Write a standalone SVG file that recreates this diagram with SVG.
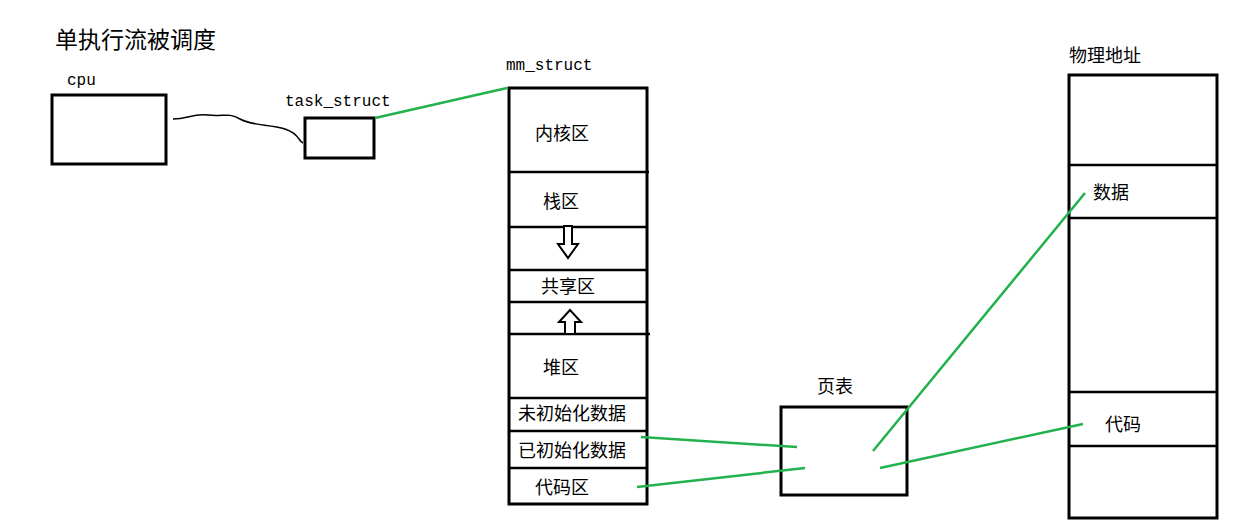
<svg xmlns="http://www.w3.org/2000/svg" width="1235" height="524" viewBox="0 0 1235 524">
<style>
.b{fill:#fff;stroke:#000;stroke-width:3}
.l{stroke:#000;stroke-width:2.5}
.g{stroke:#22b14c;stroke-width:2.5;fill:none}
.t{font-family:"Noto Sans CJK SC","Noto Sans",sans-serif;font-size:18px;fill:#000}
.m{font-family:"Liberation Mono",monospace;font-size:16px;fill:#000}
</style>
<rect width="1235" height="524" fill="#fff"/>
<text class="t" x="55" y="48" style="font-size:23px">单执行流被调度</text>
<g id="cpu"><rect class="b" x="52" y="95" width="114" height="69"/><text class="m" x="67" y="85">cpu</text></g>
<g id="task_struct"><rect class="b" x="305" y="118" width="69" height="40" stroke-width="4"/><text class="m" x="285" y="106" fill="#1a3a8a">task_struct</text></g>
<g id="mm_struct">
<text class="m" x="506" y="70">mm_struct</text>
<rect class="b" x="509" y="88" width="138" height="416"/>
<path class="l" d="M509 172H649M509 227H647M509 270H647M509 302H647M509 334H650M509 398H647M509 431H647M509 468H647"/>
<path d="M564 226h8v18h6l-10 14-10-14h6z" fill="#fff" stroke="#000" stroke-width="2"/>
<path d="M565 334v-12h-6l11-12 11 12h-6v12z" fill="#fff" stroke="#000" stroke-width="2"/>
<text class="t" x="535" y="140">内核区</text>
<text class="t" x="543" y="208">栈区</text>
<text class="t" x="541" y="293">共享区</text>
<text class="t" x="543" y="374">堆区</text>
<text class="t" x="518" y="420">未初始化数据</text>
<text class="t" x="518" y="457">已初始化数据</text>
<text class="t" x="535" y="494">代码区</text>
</g>
<g id="page_table"><rect class="b" x="781" y="407" width="126" height="88" stroke-width="2"/><text class="t" x="817" y="393">页表</text></g>
<g id="phys">
<text class="t" x="1069" y="62">物理地址</text>
<rect class="b" x="1069" y="75" width="148" height="443"/>
<path class="l" d="M1069 165H1217M1069 218H1217M1069 392H1217M1069 446H1217"/>
<text class="t" x="1093" y="199">数据</text>
<text class="t" x="1105" y="431">代码</text>
</g>
<g id="connectors">
<path d="M173 119c15 0 20-6 35-4s20-3 32 4 30 5 45 10 13 12 18 14" fill="none" stroke="#000" stroke-width="1.5"/>
<path class="g" d="M375 118L507 88M641 437L797 447M637 487L805 468M873 451L1085 193M880 468L1083 424"/>
</g>
</svg>
